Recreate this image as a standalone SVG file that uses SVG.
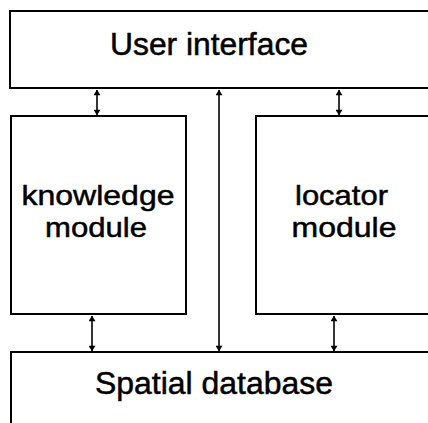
<svg xmlns="http://www.w3.org/2000/svg" width="428" height="423" viewBox="0 0 428 423">
  <defs>
    <marker id="head" viewBox="0 0 8 10" refX="7.5" refY="5" markerWidth="9" markerHeight="7" markerUnits="userSpaceOnUse" orient="auto-start-reverse">
      <path d="M0,0 L8,5 L0,10 Z" fill="#000"/>
    </marker>
  </defs>
  <style>
    .box { fill: #fff; stroke: #000; stroke-width: 2; }
    .label { font-family: "Liberation Sans", Arial, sans-serif; font-size: 31px; fill: #000; stroke: #000; stroke-width: 0.5; text-anchor: middle; }
    .small { font-size: 28.5px; }
    .link { stroke: #000; stroke-width: 1.6; fill: none; marker-start: url(#head); marker-end: url(#head); }
  </style>
  <rect width="428" height="423" fill="#fff"/>

  <g id="user-interface">
    <rect class="box" x="10" y="11" width="440" height="77"/>
    <text class="label" x="209" y="55" textLength="198" lengthAdjust="spacingAndGlyphs">User interface</text>
  </g>

  <g id="knowledge-module">
    <rect class="box" x="11" y="116" width="175" height="198"/>
    <text class="label small" x="98" y="205" textLength="153" lengthAdjust="spacingAndGlyphs">knowledge</text>
    <text class="label small" x="96" y="237" textLength="102" lengthAdjust="spacingAndGlyphs">module</text>
  </g>

  <g id="locator-module">
    <rect class="box" x="256" y="116" width="200" height="198"/>
    <text class="label small" x="341.5" y="205" textLength="93" lengthAdjust="spacingAndGlyphs">locator</text>
    <text class="label small" x="344" y="237" textLength="105" lengthAdjust="spacingAndGlyphs">module</text>
  </g>

  <g id="spatial-database">
    <rect class="box" x="11" y="352" width="440" height="100"/>
    <text class="label" x="214" y="394" textLength="238" lengthAdjust="spacingAndGlyphs">Spatial database</text>
  </g>

  <g id="connectors">
    <line class="link" x1="97" y1="90" x2="97" y2="115"/>
    <line class="link" x1="339" y1="90" x2="339" y2="115"/>
    <line class="link" x1="219" y1="90" x2="219" y2="351"/>
    <line class="link" x1="92" y1="316" x2="92" y2="351"/>
    <line class="link" x1="334" y1="316" x2="334" y2="351"/>
  </g>
</svg>
